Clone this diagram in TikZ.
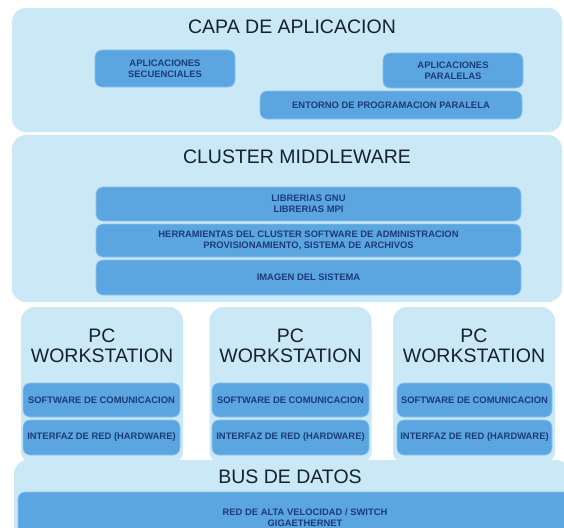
\documentclass[tikz,border=0pt]{standalone}
\usepackage{fontspec}
\setmainfont{Liberation Sans}
\definecolor{outerfill}{HTML}{CBE8F7}
\definecolor{innerfill}{HTML}{5BA6E0}
\definecolor{innerline}{HTML}{8CC2EA}
\definecolor{titlecol}{HTML}{14222C}
\definecolor{smallcol}{HTML}{1D3A78}
\tikzset{
  outerbox/.style={fill=outerfill, draw=none, rounded corners=14pt, inner sep=0pt},
  innerbox/.style={fill=innerfill, draw=innerline, line width=0.6pt, rounded corners=7pt, inner sep=0pt,
     text=smallcol, font=\bfseries\fontsize{9.4}{11}\selectfont, align=center},
  bigtitle/.style={text=titlecol, font=\fontsize{19.5}{20.5}\selectfont, align=center, inner sep=0pt},
}
\begin{document}
\begin{tikzpicture}[x=1pt,y=-1pt]
\useasboundingbox (0,0) rectangle (564,527);
\clip (0,0) rectangle (564,527);
\fill[white] (0,0) rectangle (564,527);
% capa de aplicacion
\node[outerbox, minimum width=550, minimum height=124] (capa) at (287,70) {};
\node[bigtitle] (capat) at (292,27) {CAPA DE APLICACION};
\node[innerbox, minimum width=140, minimum height=37] (sec) at (165,68.5) {APLICACIONES\\SECUENCIALES};
\node[innerbox, minimum width=140, minimum height=35] (par) at (453,70.5) {APLICACIONES\\PARALELAS};
\node[innerbox, minimum width=262, minimum height=28] (ent) at (391,105) {ENTORNO DE PROGRAMACION PARALELA};
% cluster middleware
\node[outerbox, minimum width=550, minimum height=167] (mid) at (287,218.5) {};
\node[bigtitle] (midt) at (297,157) {CLUSTER MIDDLEWARE};
\node[innerbox, minimum width=425, minimum height=34] (lib) at (308.5,204) {LIBRERIAS GNU\\LIBRERIAS MPI};
\node[innerbox, minimum width=425, minimum height=33] (her) at (308.5,240.5) {HERRAMIENTAS DEL CLUSTER SOFTWARE DE ADMINISTRACION\\PROVISIONAMIENTO, SISTEMA DE ARCHIVOS};
\node[innerbox, minimum width=425, minimum height=35] (img) at (308.5,277.5) {IMAGEN DEL SISTEMA};
% PC workstations
\foreach \n/\cx/\sx/\sw in {1/102/101.5/157, 2/290.5/290.5/157, 3/474/474.5/155}{
  \node[outerbox, minimum width=162, minimum height=158] (pc\n) at (\cx,386) {};
  \node[bigtitle] (pct\n) at (\cx,346) {PC\\WORKSTATION};
  \node[innerbox, minimum width=\sw, minimum height=34] (sw\n) at (\sx,400) {SOFTWARE DE COMUNICACION};
  \node[innerbox, minimum width=\sw, minimum height=35] (nic\n) at (\sx,437.5) {INTERFAZ DE RED (HARDWARE)};
}
% bus de datos
\node[outerbox, minimum width=556, minimum height=90] (bus) at (292,505) {};
\node[bigtitle] (bust) at (290,477) {BUS DE DATOS};
\node[innerbox, minimum width=574, minimum height=51] (red) at (305,517.5) {RED DE ALTA VELOCIDAD / SWITCH\\GIGAETHERNET};
\end{tikzpicture}
\end{document}
